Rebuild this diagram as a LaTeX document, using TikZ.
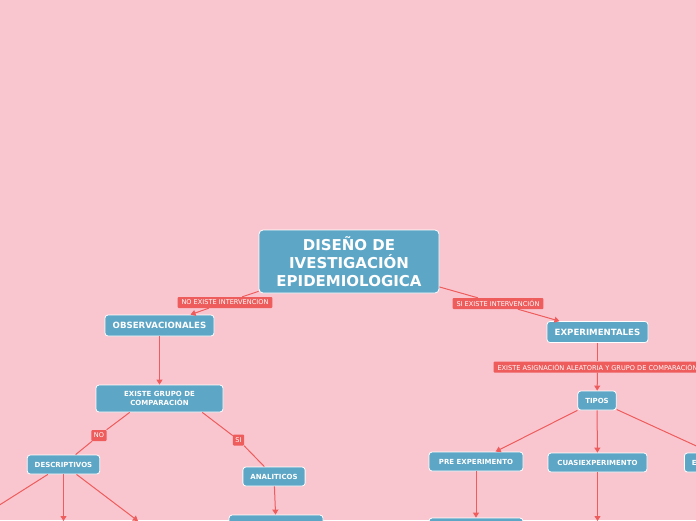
\documentclass[tikz,border=0pt]{standalone}
\usepackage{fontspec}
\setmainfont{DejaVu Sans}
\usetikzlibrary{arrows.meta}
\definecolor{rosafondo}{RGB}{249,198,208}
\definecolor{azulnodo}{RGB}{94,166,198}
\definecolor{rojolinea}{RGB}{238,92,92}
\tikzset{
  tema/.style={
    rounded corners=4pt,
    draw=white,
    line width=.8pt,
    fill=azulnodo,
    text=white,
    align=center,
    minimum width=180pt,
    minimum height=63pt,
    font=\bfseries\fontsize{15}{18}\selectfont
  },
  rama/.style={
    rounded corners=3pt,
    draw=white,
    line width=.8pt,
    fill=azulnodo,
    text=white,
    align=center,
    minimum height=21pt,
    inner xsep=7.5pt,
    font=\bfseries\fontsize{8.6}{10}\selectfont
  },
  hoja/.style={
    rounded corners=3pt,
    draw=white,
    line width=.8pt,
    fill=azulnodo,
    text=white,
    align=center,
    minimum height=19pt,
    inner xsep=7.5pt,
    font=\bfseries\fontsize{7}{9}\selectfont
  },
  etiqueta/.style={
    rounded corners=1pt,
    fill=rojolinea,
    text=white,
    minimum height=11pt,
    inner xsep=4pt,
    inner ysep=1pt,
    font=\fontsize{6.6}{7}\selectfont
  },
  flecha/.style={
    -{Triangle[length=5pt,width=6pt]},
    line width=1pt,
    rojolinea
  },
  linea/.style={
    line width=1pt,
    rojolinea
  }
}
\begin{document}
\begin{tikzpicture}[x=1pt,y=-1pt]
\useasboundingbox (0,0) rectangle (696,520);
\fill[rosafondo] (0,0) rectangle (696,520);
\clip (0,0) rectangle (696,520);
% rama observacional
\node[tema] (tema) at (349,261.5) {DISEÑO DE\\IVESTIGACIÓN\\EPIDEMIOLOGICA};
\node[etiqueta] (noint) at (225,302.5) {NO EXISTE INTERVENCION};
\node[rama, minimum width=109pt] (obs) at (159.5,325.5) {OBSERVACIONALES};
\node[hoja, minimum width=127pt, minimum height=27pt] (grupo) at (159.5,398.5) {EXISTE GRUPO DE\\COMPARACIÓN};
\node[etiqueta, inner xsep=2.5pt] (no) at (99,435.5) {NO};
\node[etiqueta, inner xsep=2.5pt] (si) at (238.5,440) {SI};
\node[hoja] (desc) at (63.5,464.5) {DESCRIPTIVOS};
\node[hoja] (ana) at (274,476.5) {ANALITICOS};
\node[hoja, minimum width=94pt, minimum height=20pt] (anah) at (276,525) {};
\coordinate (desca) at (-40,530);
\coordinate (descb) at (63.5,521);
\coordinate (descc) at (138,521);
% rama experimental
\node[etiqueta] (siint) at (498,303.5) {SI EXISTE INTERVENCIÓN};
\node[rama, minimum width=101pt] (exp) at (597.5,332) {EXPERIMENTALES};
\node[etiqueta] (asig) at (597.5,367) {EXISTE ASIGNACIÓN ALEATORIA Y GRUPO DE COMPARACIÓN};
\node[hoja] (tipos) at (597,400.5) {TIPOS};
\node[hoja, minimum width=94pt] (pre) at (476,461.5) {PRE EXPERIMENTO};
\node[hoja, minimum width=99pt] (cuasi) at (597.5,462.5) {CUASIEXPERIMENTO};
\node[hoja, anchor=west] (puro) at (684,462.5) {EXPERIMENTO PURO};
\node[hoja, minimum width=94pt, minimum height=20pt] (preh) at (476,528) {};
\coordinate (cuasih) at (597.5,521);

\draw[linea] (tema) -- (noint);
\draw[flecha] (noint) -- (obs);
\draw[flecha] (obs) -- (grupo);
\draw[linea] (grupo.-155) -- (no);
\draw[linea] (no) -- (desc);
\draw[linea] (grupo.-18) -- (si);
\draw[linea] (si) -- (ana);
\draw[flecha] (ana) -- (anah);
\draw[flecha] (desc) -- (desca);
\draw[flecha] (desc) -- (descb);
\draw[flecha] (desc) -- (descc);

\draw[linea] (tema) -- (siint);
\draw[flecha] (siint) -- (exp);
\draw[linea] (exp) -- (asig);
\draw[flecha] (asig) -- (tipos);
\draw[flecha] (tipos) -- (pre);
\draw[flecha] (tipos) -- (cuasi);
\draw[flecha] (tipos) -- (puro);
\draw[flecha] (pre) -- (preh);
\draw[flecha] (cuasi) -- (cuasih);
\end{tikzpicture}
\end{document}
